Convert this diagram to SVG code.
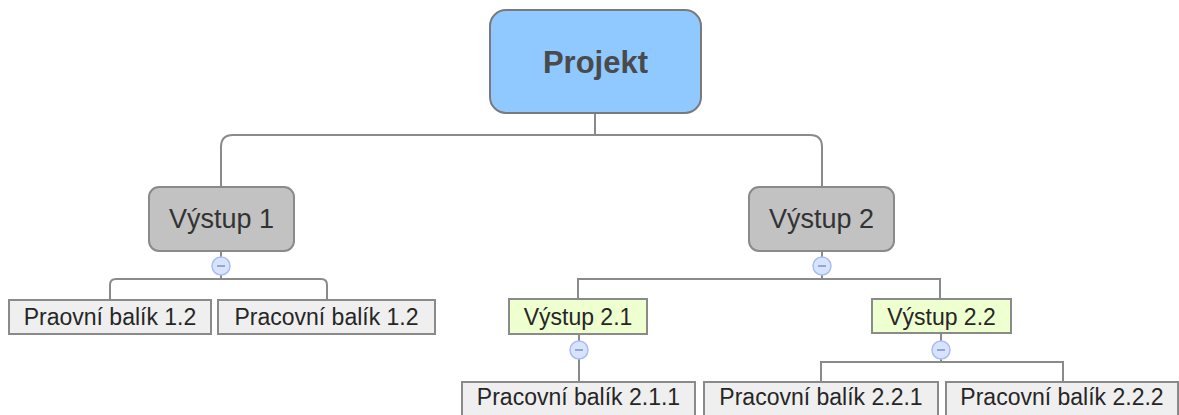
<svg xmlns="http://www.w3.org/2000/svg" width="1179" height="415" viewBox="0 0 1179 415">
<style>
.c{fill:none;stroke:#8a8a8a;stroke-width:2}
.root{fill:#8FC9FF;stroke:#7a7a7a;stroke-width:2}
.l1{fill:#C2C2C2;stroke:#8a8a8a;stroke-width:2}
.l2{fill:#EEFFD0;stroke:#8a8a8a;stroke-width:2}
.l3{fill:#EFEFEF;stroke:#8a8a8a;stroke-width:2}
.t{font-family:"Liberation Sans",Arial,sans-serif;fill:#262626;text-anchor:middle}
.tr{font-size:31px;font-weight:bold;fill:#4a4a4a}
.t1{font-size:27px;fill:#333}
.t2{font-size:23px}
.tg circle{fill:#D8E4FF;stroke:#A8BEF2;stroke-width:1.5}
.tg line{stroke:#93A6D8;stroke-width:2}
</style>
<g id="connectors">
<path class="c" d="M595 113V135M221 187V147Q221 135 233 135H810Q822 135 822 147V187"/>
<path class="c" d="M221 251V279M110 300V285Q110 279 116 279H321Q327 279 327 285V300"/>
<path class="c" d="M822 251V279M578 299V279H940V299"/>
<path class="c" d="M579 334V382"/>
<path class="c" d="M941 333V362M821 382V362H1063V382"/>
</g>
<g id="projekt"><rect class="root" x="490" y="10" width="211" height="103" rx="16"/><text class="t tr" x="595.5" y="73">Projekt</text></g>
<g id="vystup1"><rect class="l1" x="149" y="187" width="145" height="64" rx="10"/><text class="t t1" x="221.5" y="228">Výstup 1</text></g>
<g id="vystup2"><rect class="l1" x="749" y="187" width="145" height="64" rx="10"/><text class="t t1" x="821.5" y="228">Výstup 2</text></g>
<g id="balik12a"><rect class="l3" x="9" y="300" width="202" height="34"/><text class="t t2" x="110" y="325">Praovní balík 1.2</text></g>
<g id="balik12b"><rect class="l3" x="218" y="300" width="217" height="34"/><text class="t t2" x="326.5" y="325">Pracovní balík 1.2</text></g>
<g id="vystup21"><rect class="l2" x="509" y="299" width="138" height="35"/><text class="t t2" x="578" y="325">Výstup 2.1</text></g>
<g id="vystup22"><rect class="l2" x="872" y="299" width="139" height="34"/><text class="t t2" x="941.5" y="325">Výstup 2.2</text></g>
<g id="balik211"><rect class="l3" x="462" y="382" width="233" height="40"/><text class="t t2" x="578.5" y="405">Pracovní balík 2.1.1</text></g>
<g id="balik221"><rect class="l3" x="704" y="382" width="234" height="40"/><text class="t t2" x="821" y="405">Pracovní balík 2.2.1</text></g>
<g id="balik222"><rect class="l3" x="946" y="382" width="232" height="40"/><text class="t t2" x="1062" y="405">Pracovní balík 2.2.2</text></g>
<g id="toggles" class="tg">
<g id="toggle1"><circle cx="221" cy="266" r="9"/><line x1="217" y1="266" x2="225" y2="266"/></g>
<g id="toggle2"><circle cx="822" cy="266" r="9"/><line x1="818" y1="266" x2="826" y2="266"/></g>
<g id="toggle21"><circle cx="579" cy="350" r="9"/><line x1="575" y1="350" x2="583" y2="350"/></g>
<g id="toggle22"><circle cx="941" cy="350" r="9"/><line x1="937" y1="350" x2="945" y2="350"/></g>
</g>
</svg>
